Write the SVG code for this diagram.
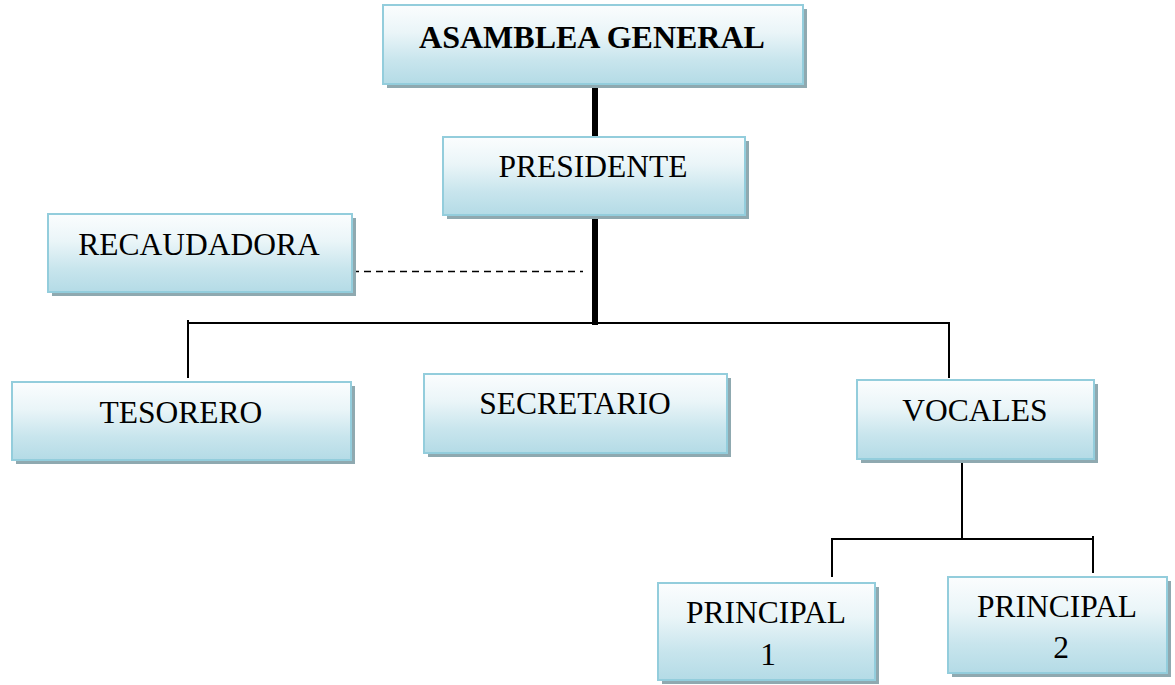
<svg xmlns="http://www.w3.org/2000/svg" width="1175" height="685" viewBox="0 0 1175 685">
<defs>
<linearGradient id="g" x1="0" y1="0" x2="0" y2="1">
<stop offset="0" stop-color="#fbfdfe"/>
<stop offset="0.35" stop-color="#eaf5f8"/>
<stop offset="0.7" stop-color="#c8e5ed"/>
<stop offset="1" stop-color="#b4dbe6"/>
</linearGradient>
<style>
.sh{fill:#8fa9b0}
.bx{fill:url(#g);stroke:#93cddc;stroke-width:2}
.t{font-family:"Liberation Serif","Times New Roman",serif;font-size:31.5px;fill:#000;text-anchor:middle}
.b{font-weight:bold;font-size:32px}
.thick{stroke:#000;stroke-width:6;fill:none}
.thin{stroke:#000;stroke-width:2;fill:none}
.dash{stroke:#000;stroke-width:1.5;stroke-dasharray:7 5;fill:none}
</style>
</defs>
<rect width="1175" height="685" fill="#fff"/>
<g id="connectors">
<line class="thick" x1="595" y1="84" x2="595" y2="138"/>
<line class="thick" x1="595" y1="215" x2="595" y2="325"/>
<line class="dash" x1="352" y1="271.5" x2="583" y2="271.5"/>
<polyline class="thin" points="188,378 188,323 949,323 949,378"/>
<line class="thin" x1="188" y1="320" x2="188" y2="324"/>
<line class="thin" x1="962" y1="452" x2="962" y2="540"/>
<polyline class="thin" points="832,577 832,539 1093,539"/>
<line class="thin" x1="1093" y1="536" x2="1093" y2="573"/>
</g>
<g id="asamblea">
<rect class="sh" x="387" y="9" width="420" height="79"/>
<rect class="bx" x="383" y="5" width="420" height="79"/>
<text class="t b" x="592" y="48">ASAMBLEA GENERAL</text>
</g>
<g id="presidente">
<rect class="sh" x="447" y="141" width="302" height="78"/>
<rect class="bx" x="443" y="137" width="302" height="78"/>
<text class="t" x="593" y="177">PRESIDENTE</text>
</g>
<g id="recaudadora">
<rect class="sh" x="52" y="218" width="304" height="78"/>
<rect class="bx" x="48" y="214" width="304" height="78"/>
<text class="t" x="199" y="255">RECAUDADORA</text>
</g>
<g id="tesorero">
<rect class="sh" x="16" y="386" width="339" height="78"/>
<rect class="bx" x="12" y="382" width="339" height="78"/>
<text class="t" x="181" y="423">TESORERO</text>
</g>
<g id="secretario">
<rect class="sh" x="428" y="378" width="303" height="79"/>
<rect class="bx" x="424" y="374" width="303" height="79"/>
<text class="t" x="575" y="414">SECRETARIO</text>
</g>
<g id="vocales">
<rect class="sh" x="861" y="384" width="237" height="79"/>
<rect class="bx" x="857" y="380" width="237" height="79"/>
<text class="t" x="975" y="421">VOCALES</text>
</g>
<g id="principal1">
<rect class="sh" x="662" y="587" width="217" height="97"/>
<rect class="bx" x="658" y="583" width="217" height="97"/>
<text class="t" x="766" y="623">PRINCIPAL</text>
<text class="t" x="768" y="665">1</text>
</g>
<g id="principal2">
<rect class="sh" x="952" y="581" width="219" height="96"/>
<rect class="bx" x="948" y="577" width="219" height="96"/>
<text class="t" x="1057" y="617">PRINCIPAL</text>
<text class="t" x="1061" y="658">2</text>
</g>
</svg>
